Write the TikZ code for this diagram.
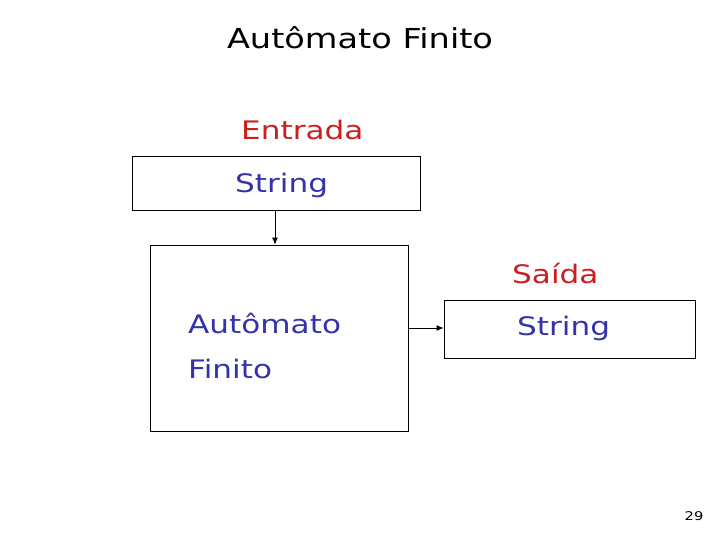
\documentclass[tikz,border=0pt]{standalone}
\usepackage{fontspec}
\usetikzlibrary{arrows.meta}
\setmainfont{DejaVu Sans}[FakeStretch=1.22]
\begin{document}
\begin{tikzpicture}[x=1pt,y=-1pt,
  box/.style={draw,line width=0.6pt},
  lbl/.style={anchor=west,inner sep=0pt,font=\fontsize{25.5}{28}\selectfont},
  blue/.style={lbl,text={rgb,255:red,51;green,51;blue,170}},
  red/.style={lbl,text={rgb,255:red,204;green,30;blue,30}},
  arr/.style={-{Latex[length=7pt,width=6pt]},line width=1pt}]
\useasboundingbox (0,0) rectangle (720,540);
\node[inner sep=0pt,font=\fontsize{27.5}{30}\selectfont] (title) at (360,38) {Autômato Finito};
\node[red] (entrada) at (241,130) {Entrada};
\node[box,minimum width=288,minimum height=54,inner sep=0pt] (inbox) at (276,183) {};
\node[blue] (s1) at (235,185) {String};
\node[box,minimum width=258,minimum height=186,inner sep=0pt] (af) at (279,338) {};
\node[blue] (a1) at (188,323) {Autômato};
\node[blue] (a2) at (188,369) {Finito};
\node[red] (saida) at (512,273) {Saída};
\node[box,minimum width=251,minimum height=58,inner sep=0pt] (outbox) at (569.5,329) {};
\node[blue] (s2) at (517,328) {String};
\node[inner sep=0pt,font=\fontsize{12}{14}\selectfont] (pg) at (694,516) {29};
\draw[arr] (inbox.south -| 275,0) -- (af.north -| 275,0);
\draw[arr] (af.east |- 0,328) -- (outbox.west |- 0,328);
\end{tikzpicture}
\end{document}
